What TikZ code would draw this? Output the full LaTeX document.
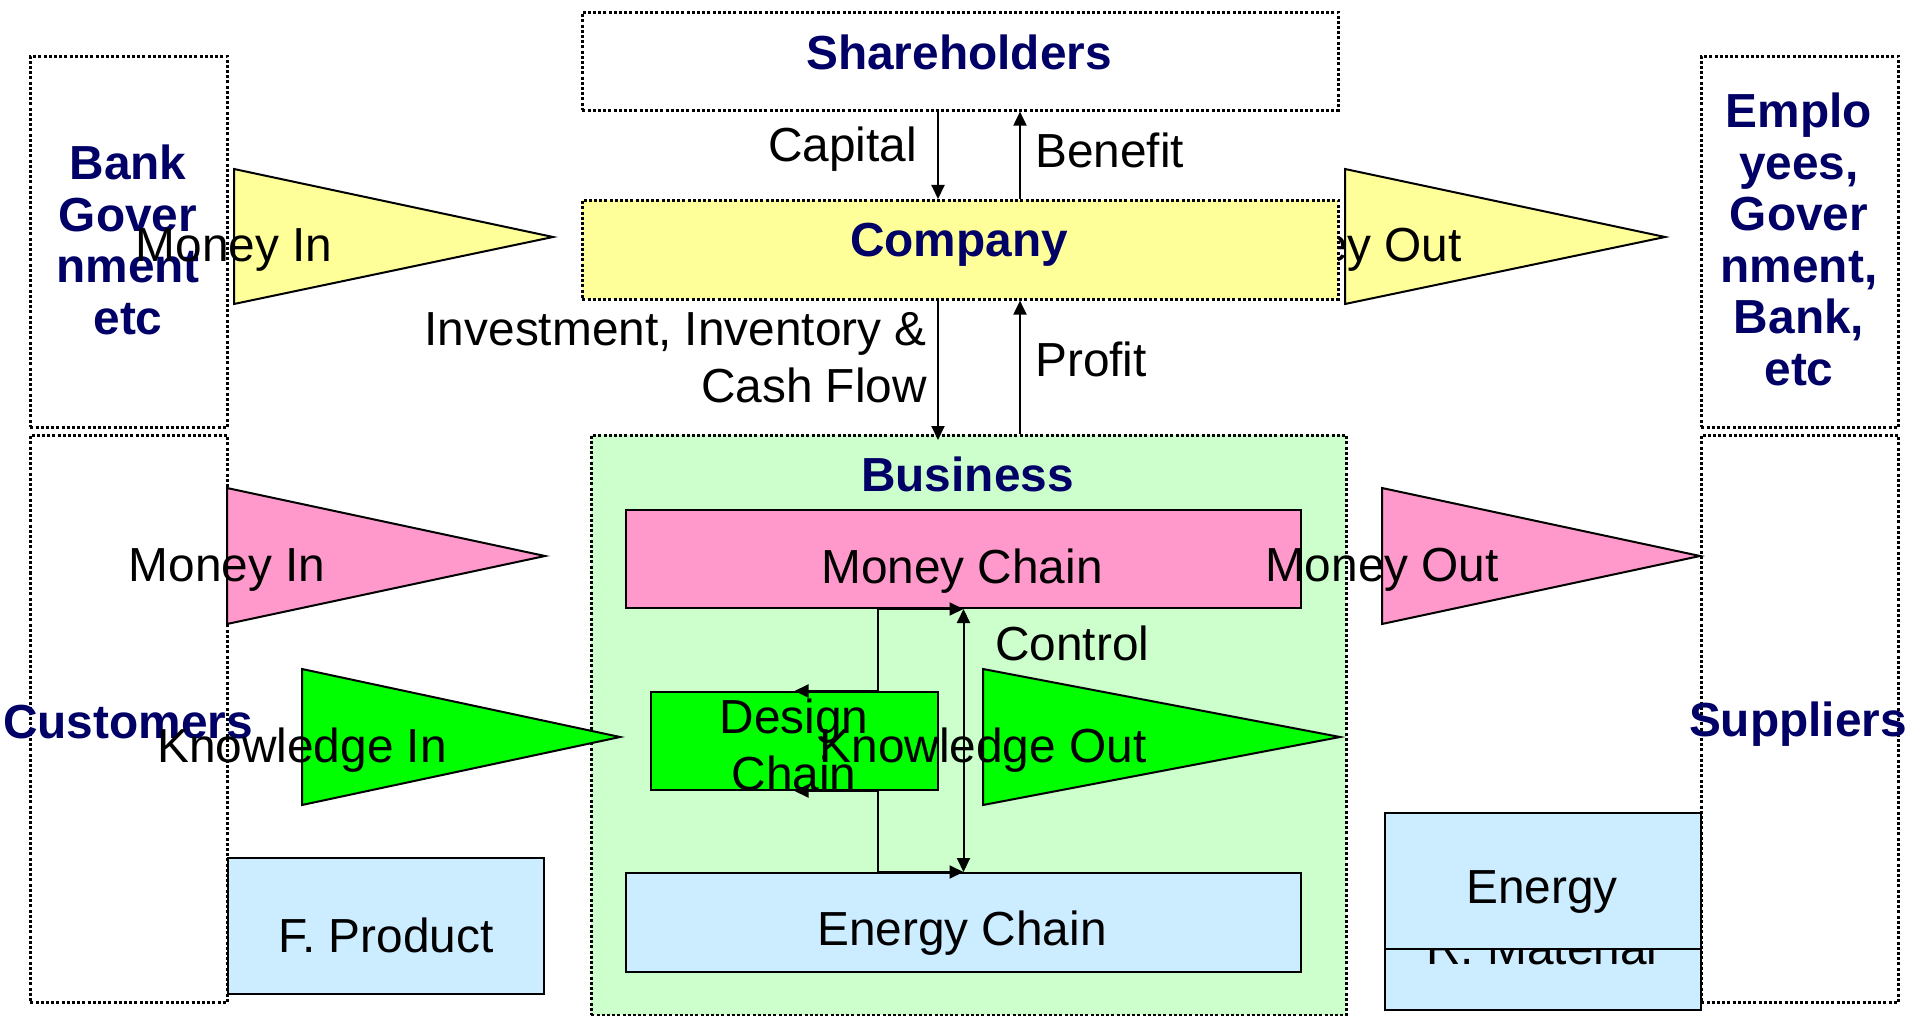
\documentclass[tikz,border=0pt]{standalone}
\usepackage{fontspec}
\setmainfont{Liberation Sans}
\usetikzlibrary{arrows.meta}
\definecolor{navy}{RGB}{0,0,102}
\definecolor{yel}{RGB}{255,255,153}
\definecolor{pnk}{RGB}{255,153,204}
\definecolor{grn}{RGB}{0,255,0}
\definecolor{lgrn}{RGB}{204,255,204}
\definecolor{lblue}{RGB}{204,236,255}
\tikzset{
 dotbox/.style={draw=black, line width=2.6pt, dash pattern=on 3pt off 2.2pt, rectangle, inner sep=0pt, anchor=north west},
 solidbox/.style={draw=black, line width=2pt, rectangle, inner sep=0pt, anchor=north west},
 tri/.style={draw=black, line width=2pt, line join=miter},
 lbl/.style={font=\fontsize{47.8}{57}\selectfont, inner sep=0pt, anchor=base},
 head/.style={font=\fontsize{47.8}{51.5}\selectfont\bfseries, text=navy, inner sep=0pt, anchor=base, align=center},
 arr/.style={line width=2pt, -{Triangle[length=14pt,width=13pt]}},
 dbl/.style={line width=2pt, {Triangle[length=14pt,width=13pt]}-{Triangle[length=14pt,width=13pt]}},
}
\begin{document}
\begin{tikzpicture}[x=1pt,y=-1pt]
\fill[white] (0,0) rectangle (1915,1016);
\useasboundingbox (0,0) rectangle (1915,1016);
% outer boxes
\node[dotbox, minimum width=197pt, minimum height=371pt] (lefttop) at (29,55) {};
\node[dotbox, minimum width=197pt, minimum height=567pt] (leftbot) at (29,434) {};
\node[dotbox, minimum width=197pt, minimum height=371pt] (righttop) at (1700,55) {};
\node[dotbox, minimum width=197pt, minimum height=567pt] (rightbot) at (1700,434) {};
\node[head, anchor=center] (bankT) at (128,240) {Bank\\Gover\\nment\\etc};
\node[head, anchor=center] (empT) at (1799,239.5) {Emplo\\yees,\\Gover\\nment,\\Bank,\\etc};
\node[head] (custT) at (128,738) {Customers};
\node[head] (suppT) at (1798,736) {Suppliers};
% shareholders
\node[dotbox, minimum width=756pt, minimum height=98pt] (share) at (581,11) {};
\node[head] (shareT) at (959,70) {Shareholders};
% business
\node[dotbox, fill=lgrn, minimum width=755pt, minimum height=580pt] (business) at (590,434) {};
\node[head] (busT) at (967.5,491.5) {Business};
\node[solidbox, fill=pnk, minimum width=675pt, minimum height=98pt] (money) at (625,509) {};
\node[lbl] (moneyT) at (962,583) {Money Chain};
\node[solidbox, fill=grn, minimum width=287pt, minimum height=98pt] (design) at (650,691) {};
\node[lbl, anchor=center, align=center] (designT) at (794,745) {Design\\Chain};
\node[solidbox, fill=lblue, minimum width=675pt, minimum height=99pt] (echain) at (625,872) {};
\node[lbl] (echainT) at (962,945) {Energy Chain};
% product / material / energy
\node[solidbox, fill=lblue, minimum width=316pt, minimum height=136pt] (fprod) at (227,857) {};
\node[lbl] (fprodT) at (386,952) {F. Product};
\node[solidbox, fill=lblue, minimum width=316pt, minimum height=136pt] (rmat) at (1384,873) {};
\node[lbl] (rmatT) at (1542,964.5) {R. Material};
\node[solidbox, fill=lblue, minimum width=316pt, minimum height=136pt] (energy) at (1384,812) {};
\node[lbl] (energyT) at (1542,903) {Energy};
% triangles
\filldraw[tri, fill=yel] (234,169) -- (553,237) -- (234,304) -- cycle;
\node[lbl] (minTop) at (234,262) {Money In};
\filldraw[tri, fill=yel] (1345,169) -- (1665,237) -- (1345,304) -- cycle;
\node[lbl] (moutTop) at (1345,262) {Money Out};
\filldraw[tri, fill=pnk] (227,488) -- (545,556) -- (227,624) -- cycle;
\node[lbl] (minBot) at (227,581) {Money In};
\filldraw[tri, fill=pnk] (1382,488) -- (1700,556) -- (1382,624) -- cycle;
\node[lbl] (moutBot) at (1382,581) {Money Out};
\filldraw[tri, fill=grn] (302,669) -- (620,737) -- (302,805) -- cycle;
\node[lbl] (kin) at (302,762) {Knowledge In};
\filldraw[tri, fill=grn] (983,669) -- (1340,737) -- (983,805) -- cycle;
\node[lbl] (kout) at (983,762) {Knowledge Out};
% company
\node[dotbox, fill=yel, minimum width=756pt, minimum height=99pt] (company) at (581,199) {};
\node[head] (compT) at (959,257) {Company};
% arrows
\coordinate (capx) at (938,0);
\coordinate (benx) at (1020,0);
\coordinate (elb) at (878,0);
\draw[arr] (share.south -| capx) -- (company.north -| capx);
\draw[arr] (company.north -| benx) -- (share.south -| benx);
\draw[arr] (company.south -| capx) -- ([yshift=-6pt]business.north -| capx);
\draw[arr] (business.north -| benx) -- (company.south -| benx);
\node[lbl, anchor=base east] (capT) at (917,162) {Capital};
\node[lbl, anchor=base west] (benT) at (1035,168) {Benefit};
\node[lbl, anchor=east, align=right] (invT) at (927,358) {Investment, Inventory \&\\Cash Flow};
\node[lbl, anchor=base west] (profT) at (1035,377) {Profit};
\draw[dbl] (design.north) -- (design.north -| elb) -- (money.south -| elb) -- (money.south);
\draw[dbl] (design.south) -- (design.south -| elb) -- (echain.north -| elb) -- (echain.north);
\draw[dbl] (money.south) -- (echain.north);
\node[lbl, anchor=base west] (ctrlT) at (995,660) {Control};
\end{tikzpicture}
\end{document}
